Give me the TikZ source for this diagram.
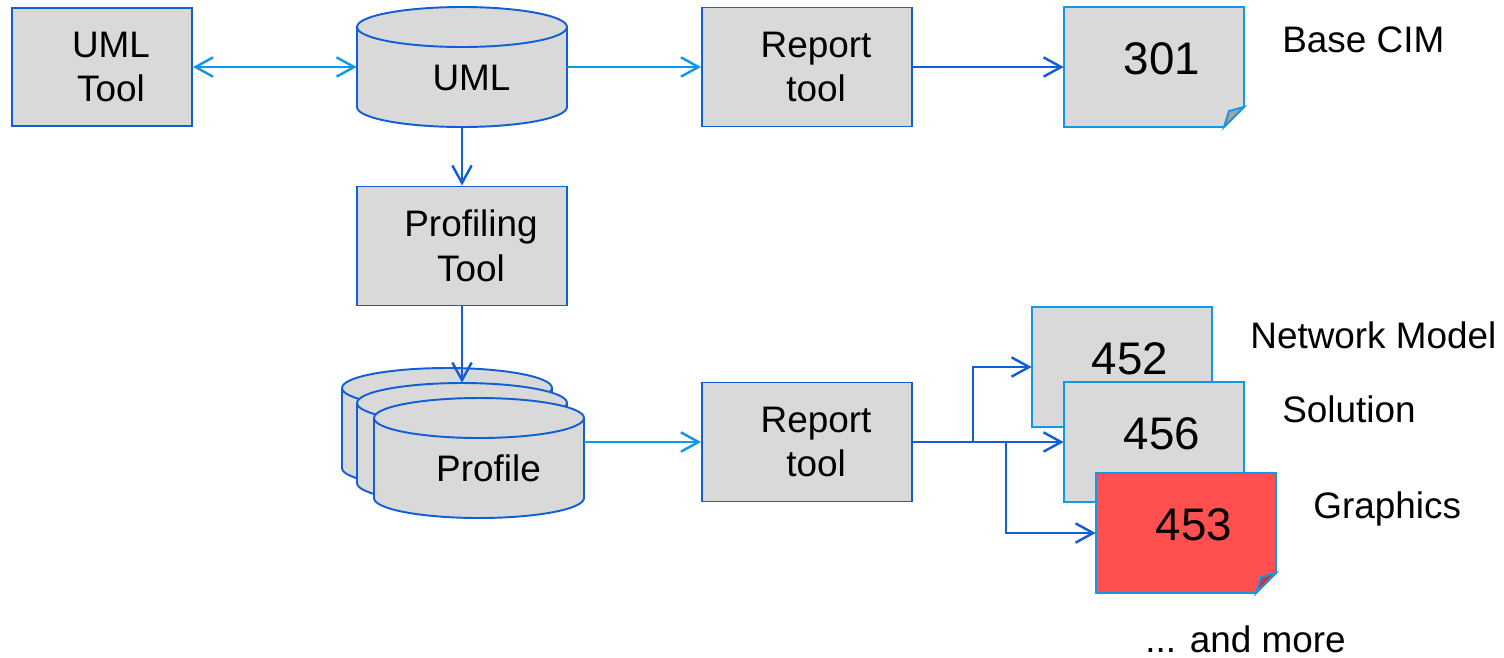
\documentclass[tikz,border=0pt]{standalone}
\usepackage{fontspec}
\setmainfont{Liberation Sans}
\usetikzlibrary{arrows.meta}

\definecolor{boxgray}{RGB}{217,217,217}
\definecolor{dblue}{RGB}{18,94,214}
\definecolor{lblue}{RGB}{18,152,230}
\definecolor{docred}{RGB}{255,80,80}

\newcommand{\boxfont}{\fontsize{21}{25.5}\selectfont}
\newcommand{\docfont}{\fontsize{26}{31}\selectfont}

% sheet with a folded corner: centre x, centre y, fill
\newcommand{\docsheet}[3]{%
  \filldraw[docline, fill=#3] (#1-90,#2-60) -- (#1+90,#2-60) -- (#1+90,#2+40)
    -- (#1+70,#2+60) -- (#1-90,#2+60) -- cycle;
  \filldraw[docline, fill=#3!75!black] (#1+70,#2+60) -- (#1+75,#2+44) -- (#1+90,#2+40) -- cycle;
}

% database drum: centre x, centre y
\newcommand{\dbdrum}[2]{%
  \filldraw[dbline] (#1-105,#2-40) -- (#1-105,#2+40)
    arc[start angle=180, end angle=360, x radius=2.1cm, y radius=0.4cm]
    -- (#1+105,#2-40)
    arc[start angle=0, end angle=180, x radius=2.1cm, y radius=0.4cm] -- cycle;
  \draw[dbline, fill=none] (#1-105,#2-40)
    arc[start angle=180, end angle=360, x radius=2.1cm, y radius=0.4cm];
}

\begin{document}
\begin{tikzpicture}[x=0.02cm, y=-0.02cm,
  >={Straight Barb[length=10pt,width=11pt]},
  txt/.style={align=center, font=\boxfont},
  box/.style={draw=dblue, fill=boxgray, line width=1.1pt, minimum width=4.2cm,
    minimum height=2.38cm, label={[txt, xshift=0.18cm]center:#1}},
  db/.style={minimum width=4.2cm, minimum height=2.4cm,
    label={[txt, xshift=0.19cm, yshift=-0.21cm]center:#1}},
  db/.default={},
  dbline/.style={draw=dblue, fill=boxgray, line width=1.1pt},
  doc/.style={minimum width=3.6cm, minimum height=2.4cm,
    label={[txt, font=\docfont, xshift=0.16cm, yshift=0.16cm]center:#1}},
  docline/.style={draw=lblue, line width=1.1pt},
  tag/.style={anchor=west, font=\boxfont, text height=15pt, text depth=0pt, inner sep=0pt},
  link/.style={line width=1.4pt}]
\useasboundingbox (0,0) rectangle (1504,657);

% Tools and stores
\node[box={UML\\Tool}, minimum width=3.6cm, minimum height=2.36cm] (umltool) at (102,67) {};
\dbdrum{462}{67}
\node[db=UML] (uml) at (462,67) {};
\node[box={Report\\tool}] (rep1) at (807,67) {};
\node[box={Profiling\\Tool}] (prof) at (462,246) {};

% Stack of profiles
\dbdrum{447}{428}
\node[db] (pb) at (447,428) {};
\dbdrum{462}{443}
\node[db] (pm) at (462,443) {};
\dbdrum{479}{458}
\node[db=Profile] (profile) at (479,458) {};
\node[box={Report\\tool}] (rep2) at (807,442) {};

% Output documents
\docsheet{1154}{67}{boxgray}
\node[doc=301] (d301) at (1154,67) {};
\docsheet{1122}{367}{boxgray}
\node[doc=452] (d452) at (1122,367) {};
\docsheet{1154}{442}{boxgray}
\node[doc=456] (d456) at (1154,442) {};
\docsheet{1186}{533}{docred}
\node[doc=453] (d453) at (1186,533) {};

% Labels
\node[tag] (tcim) at (1282,39) {Base CIM};
\node[tag] (tnet) at (1250,335) {Network Model};
\node[tag] (tsol) at (1282,409) {Solution};
\node[tag] (tgra) at (1313,505) {Graphics};
\node[tag] (tmore) at (1145,639) {... and more};

% Connectors
\draw[link, lblue, <->] (umltool) -- (uml);
\draw[link, lblue, ->] (uml) -- (rep1);
\draw[link, dblue, ->] (rep1) -- (d301);
\draw[link, dblue, ->] (uml) -- (prof);
\draw[link, dblue, ->] (prof) -- (pm.north);
\draw[link, lblue, ->] (rep2.west -| profile.east) -- (rep2.west);

% Fan out to the documents
\draw[link, dblue, ->] (rep2.east) -- ++(60,0) |- (d452.west);
\draw[link, dblue, ->] (rep2.east) -- (d456.west);
\draw[link, dblue, ->] (rep2.east) -- ++(93,0) |- (d453.west);
\end{tikzpicture}
\end{document}
